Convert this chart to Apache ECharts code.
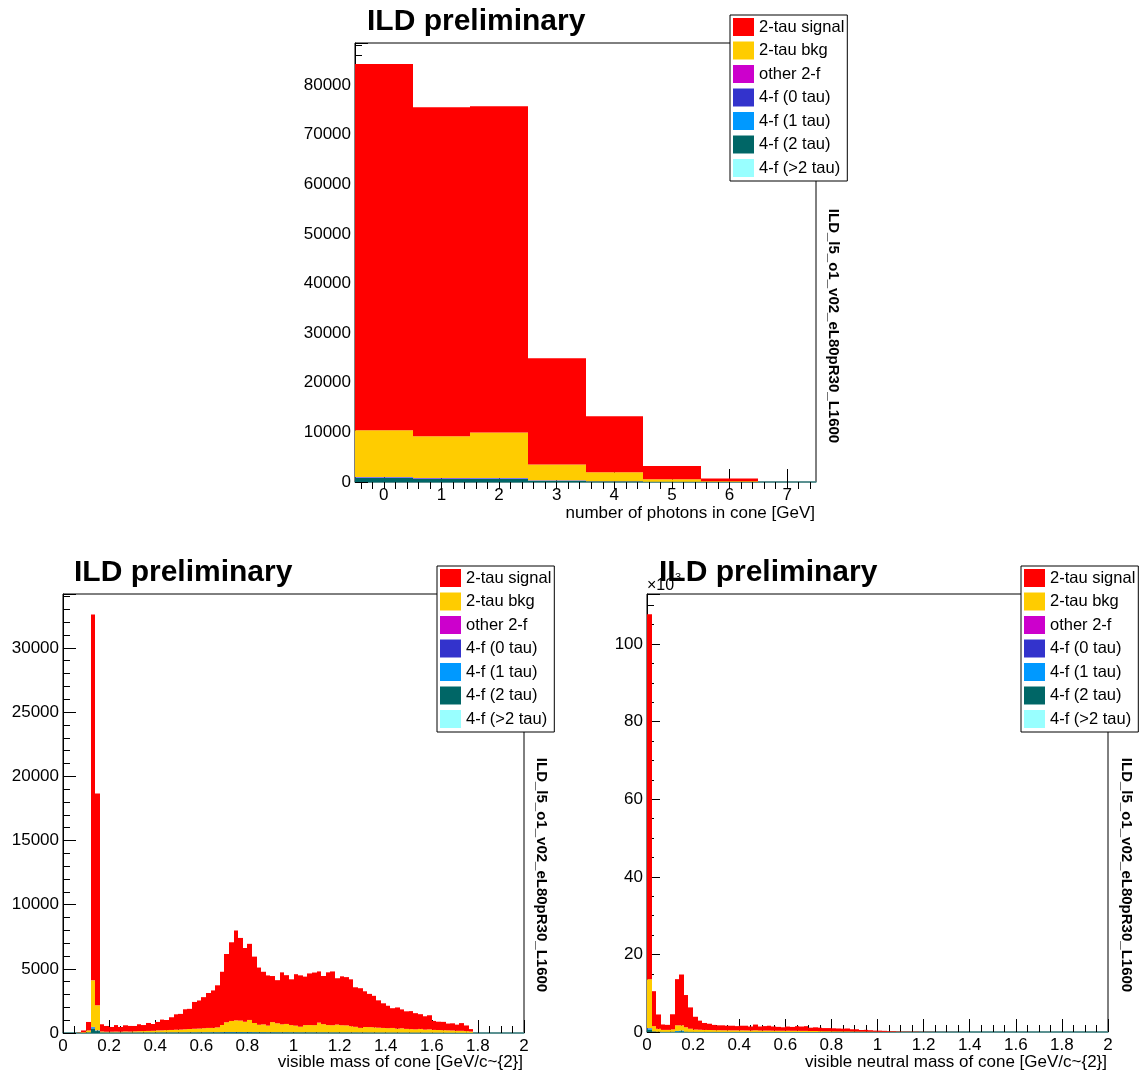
<!DOCTYPE html>
<html><head><meta charset="utf-8">
<script src="https://cdn.jsdelivr.net/npm/echarts@6/dist/echarts.min.js"></script>
<style>html,body{margin:0;padding:0;background:#fff}#c{width:1142px;height:1077px}</style>
</head><body><div id="c"></div><script>
// ---------------- DATA ----------------
const legendNames = ['2-tau signal','2-tau bkg','other 2-f','4-f (0 tau)','4-f (1 tau)','4-f (2 tau)','4-f (>2 tau)'];
const seriesColors = ['#ff0000','#ffcc00','#cc00cc','#3333cc','#0099ff','#006666','#99ffff'];

// Chart 1: number of photons in cone (8 bins, -0.5 .. 7.5)
const photonBins = {lo: -0.5, width: 1, n: 8};
const photonTickLabels = [0,1,2,3,4,5,6,7];
const photonYTicks = [0,10000,20000,30000,40000,50000,60000,70000,80000];
const phSignal = [73820, 66290, 65750, 21440, 11290, 2690, 550, 0];
const phBkg    = [9420, 8410, 9150, 3170, 1820, 500, 130, 0];
const phOther  = [30, 35, 35, 15, 4, 2, 1, 0];
const ph0tau   = [80, 100, 90, 40, 15, 5, 1, 0];
const ph1tau   = [80, 60, 60, 30, 15, 4, 1, 0];
const ph2tau   = [800, 600, 610, 250, 105, 28, 7, 0];
const phGt2tau = [20, 15, 15, 5, 1, 1, 0, 0];

// Chart 2: visible mass of cone (100 bins, 0 .. 2)
const massBins = {lo: 0, width: 0.02, n: 100};
const massTickLabels = [0,0.2,0.4,0.6,0.8,1,1.2,1.4,1.6,1.8,2];
const massYTicks = [0,5000,10000,15000,20000,25000,30000];
const mSignal = [
 0,0,0,20,140,660,28500,16490,560,450,
 370,510,370,480,440,420,540,470,620,530,
 660,840,790,990,1200,1220,1560,1570,2090,2190,
 2420,2720,2920,3280,4150,5320,6130,7000,6440,5750,
 5930,5170,4460,4100,3910,3590,3360,4050,3800,3570,
 4010,4000,3780,4020,4100,3990,3750,4110,4190,3610,
 3810,3760,3650,3080,3090,2780,2590,2450,2130,1920,
 1750,1540,1650,1470,1370,1400,1260,1150,1040,1100,
 700,650,650,530,560,480,600,440,190,0,
 0,0,0,0,0,0,0,0,0,0];
const mBkg = [
 0,0,0,15,45,150,3625,1952,70,50,
 50,60,50,70,60,80,90,100,110,120,
 150,150,170,180,200,210,230,250,270,280,
 310,330,330,370,550,760,860,910,890,800,
 940,710,570,600,510,780,690,610,640,550,
 510,430,550,560,550,750,630,560,550,600,
 550,540,480,430,350,420,410,400,370,350,
 330,350,300,330,280,270,250,280,230,250,
 210,200,190,180,170,150,150,130,100,0,
 0,0,0,0,0,0,0,0,0,0];
const mOther = [
 0,0,0,0,0,0,10,5,3,3,
 3,3,3,3,3,3,3,3,3,3,
 3,3,3,3,3,3,3,3,3,3,
 3,3,3,3,3,3,3,3,3,3,
 3,3,3,3,3,3,3,3,3,3,
 3,3,3,3,3,3,3,3,3,3,
 3,3,3,3,3,3,3,3,3,3,
 3,3,3,3,3,3,3,3,3,3,
 3,3,3,2,2,2,2,1,1,0,
 0,0,0,0,0,0,0,0,0,0];
const m0tau = [
 0,0,0,0,0,0,20,10,5,5,
 5,5,5,5,5,5,5,5,5,5,
 5,5,5,5,5,5,5,5,5,5,
 5,5,5,5,5,5,5,5,5,5,
 5,5,5,5,5,5,5,5,5,5,
 5,5,5,5,5,5,5,5,5,5,
 5,5,5,5,5,5,5,5,5,5,
 5,5,5,5,5,5,5,5,5,5,
 5,5,4,4,3,3,3,2,2,0,
 0,0,0,0,0,0,0,0,0,0];
const m1tau = [
 0,0,0,0,0,10,90,40,10,10,
 10,10,10,10,10,10,10,10,10,10,
 10,12,12,12,12,12,14,14,14,14,
 15,15,15,16,16,18,18,18,16,16,
 16,15,15,15,14,14,14,14,13,13,
 12,12,12,12,12,12,11,11,11,10,
 10,10,10,10,9,9,9,8,8,8,
 8,8,7,7,7,6,6,6,5,5,
 5,5,4,4,4,3,3,3,2,0,
 0,0,0,0,0,0,0,0,0,0];
const m2tau = [
 0,0,0,5,15,40,350,150,30,28,
 30,28,30,32,30,28,32,30,32,30,
 32,34,32,35,34,36,35,38,36,40,
 38,40,42,40,45,48,50,48,50,48,
 50,46,44,45,42,44,42,40,42,40,
 40,38,40,38,38,36,38,36,35,36,
 34,34,32,32,30,30,28,28,26,26,
 25,24,24,22,22,20,20,20,18,18,
 16,16,15,14,14,12,12,10,8,0,
 0,0,0,0,0,0,0,0,0,0];
const mGt2tau = [
 0,0,0,0,0,0,5,3,2,2,
 2,2,2,2,2,2,2,2,2,2,
 2,2,2,2,2,2,2,2,2,2,
 2,2,2,2,2,2,2,2,2,2,
 2,2,2,2,2,2,2,2,2,2,
 2,2,2,2,2,2,2,2,2,2,
 2,2,2,2,2,2,2,2,2,2,
 2,2,2,2,2,2,2,2,2,2,
 2,2,2,1,1,1,1,1,1,0,
 0,0,0,0,0,0,0,0,0,0];

// Chart 3: visible neutral mass of cone (100 bins, 0 .. 2), values in units of 10^3
const neutralBins = {lo: 0, width: 0.02, n: 100};
const neutralTickLabels = [0,0.2,0.4,0.6,0.8,1,1.2,1.4,1.6,1.8,2];
const neutralYTicks = [0,20,40,60,80,100];
const nSignal = [
 94.1,9.0,3.7,1.4,1.3,3.9,11.9,13.1,8.3,5.5,
 3.3,2.35,1.8,1.62,1.35,1.25,1.28,1.18,1.2,1.1,
 1.2,1.22,1.04,1.48,1.05,1.15,1.26,1.08,1.0,0.9,
 1.08,1.0,1.2,1.12,1.22,0.85,0.95,0.88,0.8,0.8,
 0.77,0.73,0.69,0.74,0.57,0.58,0.4,0.45,0.37,0.28,
 0.29,0.25,0.16,0.16,0.09,0.08,0.08,0.06,0.08,0.04,
 0.04,0.04,0.03,0.02,0.02,0.02,0.02,0.01,0.01,0,
 0,0,0,0,0,0,0,0,0,0,
 0,0,0,0,0,0,0,0,0,0,
 0,0,0,0,0,0,0,0,0,0];
const nBkg = [
 12.6,1.37,0.75,0.5,0.5,0.6,1.45,1.35,1.15,0.8,
 0.6,0.55,0.5,0.48,0.45,0.45,0.42,0.42,0.4,0.4,
 0.4,0.38,0.36,0.42,0.35,0.35,0.34,0.32,0.3,0.3,
 0.32,0.3,0.3,0.28,0.28,0.25,0.25,0.22,0.2,0.2,
 0.18,0.17,0.16,0.16,0.13,0.12,0.1,0.1,0.08,0.07,
 0.06,0.05,0.04,0.04,0.03,0.02,0.02,0.02,0.02,0.01,
 0.01,0.01,0,0,0,0,0,0,0,0,
 0,0,0,0,0,0,0,0,0,0,
 0,0,0,0,0,0,0,0,0,0,
 0,0,0,0,0,0,0,0,0,0];
const nOther = [0.03,0.01,0,0,0,0,0,0,0,0, 0,0,0,0,0,0,0,0,0,0, 0,0,0,0,0,0,0,0,0,0, 0,0,0,0,0,0,0,0,0,0, 0,0,0,0,0,0,0,0,0,0, 0,0,0,0,0,0,0,0,0,0, 0,0,0,0,0,0,0,0,0,0, 0,0,0,0,0,0,0,0,0,0, 0,0,0,0,0,0,0,0,0,0, 0,0,0,0,0,0,0,0,0,0];
const n0tau = [0.05,0.01,0,0,0,0,0.02,0.02,0,0, 0,0,0,0,0,0,0,0,0,0, 0,0,0,0,0,0,0,0,0,0, 0,0,0,0,0,0,0,0,0,0, 0,0,0,0,0,0,0,0,0,0, 0,0,0,0,0,0,0,0,0,0, 0,0,0,0,0,0,0,0,0,0, 0,0,0,0,0,0,0,0,0,0, 0,0,0,0,0,0,0,0,0,0, 0,0,0,0,0,0,0,0,0,0];
const n1tau = [0.3,0.03,0.02,0.01,0.01,0.02,0.15,0.2,0.03,0.01, 0.01,0.01,0.01,0.01,0.01,0,0,0,0,0, 0,0,0,0,0,0,0,0,0,0, 0,0,0,0,0,0,0,0,0,0, 0,0,0,0,0,0,0,0,0,0, 0,0,0,0,0,0,0,0,0,0, 0,0,0,0,0,0,0,0,0,0, 0,0,0,0,0,0,0,0,0,0, 0,0,0,0,0,0,0,0,0,0, 0,0,0,0,0,0,0,0,0,0];
const n2tau = [
 0.6,0.1,0.05,0.03,0.03,0.05,0.1,0.15,0.05,0.03,
 0.02,0.02,0.02,0.02,0.02,0.02,0.02,0.02,0.02,0.02,
 0.02,0.02,0.02,0.02,0.02,0.02,0.02,0.02,0.02,0.02,
 0.01,0.01,0.01,0.01,0.01,0.01,0.01,0.01,0.01,0.01,
 0.01,0.01,0.01,0.01,0.01,0.01,0.01,0.01,0.01,0.01,
 0,0,0,0,0,0,0,0,0,0, 0,0,0,0,0,0,0,0,0,0,
 0,0,0,0,0,0,0,0,0,0, 0,0,0,0,0,0,0,0,0,0, 0,0,0,0,0,0,0,0,0,0];
const nGt2tau = [0.02,0,0,0,0,0,0,0,0,0, 0,0,0,0,0,0,0,0,0,0, 0,0,0,0,0,0,0,0,0,0, 0,0,0,0,0,0,0,0,0,0, 0,0,0,0,0,0,0,0,0,0, 0,0,0,0,0,0,0,0,0,0, 0,0,0,0,0,0,0,0,0,0, 0,0,0,0,0,0,0,0,0,0, 0,0,0,0,0,0,0,0,0,0, 0,0,0,0,0,0,0,0,0,0];

// ---------------- BUILD ----------------
const FONT = '"Liberation Sans", Arial, Helvetica, sans-serif';
const TEAL_LINE = '#4f9696';

function edgesOf(b){ const e=[]; for(let i=0;i<=b.n;i++) e.push(+(b.lo+i*b.width).toFixed(6)); return e; }

function renderRect(params, api){
  const x0=api.value(0), x1=api.value(1), y0=api.value(2), y1=api.value(3);
  if (y1<=y0) return null;
  const p0=api.coord([x0,y1]), p1=api.coord([x1,y0]);
  const left=Math.round(p0[0]), right=Math.round(p1[0]);
  const top=p0[1], bottom=p1[1];
  const col = api.visual('color');
  return {type:'rect', shape:{x:left, y:top, width:right-left, height:bottom-top},
          style:{fill:col}};
}

function buildStack(bins, layers, axisIdx){
  // layers in legend order (top first); stacked from the bottom
  const edges = edgesOf(bins);
  const base = new Array(bins.n).fill(0);
  const out = [];
  for (let k=layers.length-1;k>=0;k--){
    const vals = layers[k];
    const data = vals.map((v,i)=>[edges[i], edges[i+1], base[i], base[i]+v]);
    vals.forEach((v,i)=>{ base[i]+=v; });
    out.push({type:'custom', name:legendNames[k], xAxisIndex:axisIdx, yAxisIndex:axisIdx,
      itemStyle:{color:seriesColors[k]}, encode:{x:[0,1], y:[2,3]}, data, renderItem:renderRect,
      silent:true, animation:false, clip:true});
  }
  return out;
}

const series = [].concat(
  buildStack(photonBins, [phSignal,phBkg,phOther,ph0tau,ph1tau,ph2tau,phGt2tau], 0),
  buildStack(massBins, [mSignal,mBkg,mOther,m0tau,m1tau,m2tau,mGt2tau], 1),
  buildStack(neutralBins, [nSignal,nBkg,nOther,n0tau,n1tau,n2tau,nGt2tau], 2)
);
// minor-tick overlay axis for the photon chart
series.push({type:'custom', xAxisIndex:3, yAxisIndex:0, data:[], renderItem:()=>null, silent:true});

const photonMinor = []; for (let v=-0.4; v<7.45; v+=0.2) photonMinor.push(+v.toFixed(2));

const labelStyle = {color:'#000', fontSize:17, fontFamily:FONT, formatter:(v)=>String(+(+v).toFixed(4))};
function xAxisCfg(grid, min, max, interval, labels){
  return {type:'value', gridIndex:grid, min, max, interval,
    axisLine:{show:true, onZero:false, lineStyle:{color:TEAL_LINE, width:1.5}},
    axisTick:{show:true, inside:true, length:13, lineStyle:{color:'#000', width:1}},
    minorTick:{show:true, splitNumber:4, length:7, lineStyle:{color:'#000', width:1}},
    axisLabel:Object.assign({margin:5, customValues:labels}, labelStyle),
    splitLine:{show:false}, minorSplitLine:{show:false}};
}
function yAxisCfg(grid, max, interval, split, labels){
  return {type:'value', gridIndex:grid, min:0, max, interval,
    axisLine:{show:true, onZero:false, lineStyle:{color:'#000', width:1}},
    axisTick:{show:true, inside:true, length:13, lineStyle:{color:'#000', width:1}},
    minorTick:{show:true, splitNumber:split, length:7, lineStyle:{color:'#000', width:1}},
    axisLabel:Object.assign({margin:4, customValues:labels}, labelStyle),
    splitLine:{show:false}, minorSplitLine:{show:false}};
}

const xTop = {type:'value', gridIndex:0, min:-0.5, max:7.5,
  axisLine:{show:true, onZero:false, lineStyle:{color:TEAL_LINE, width:1.5}},
  axisTick:{show:true, inside:true, length:13, customValues:photonTickLabels, lineStyle:{color:'#000'}},
  axisLabel:Object.assign({margin:5, customValues:photonTickLabels}, labelStyle),
  splitLine:{show:false}};
const xTopMinor = {type:'value', gridIndex:0, min:-0.5, max:7.5,
  axisLine:{show:false}, axisLabel:{show:false},
  axisTick:{show:true, inside:true, length:7, customValues:photonMinor, lineStyle:{color:'#000'}},
  splitLine:{show:false}};

function legendCfg(left, top){
  return {show:true, left, top, orient:'vertical', data:legendNames, icon:'rect',
    itemWidth:21, itemHeight:18, itemGap:5.5, padding:[3,3,4,3],
    backgroundColor:'#fff', borderColor:'#000', borderWidth:1, z:20,
    selectedMode:false, textStyle:{color:'#000', fontSize:16.5, fontFamily:FONT}};
}

function txt(x,y,text,font,align,extra){
  return Object.assign({type:'text', x, y, z:30, style:{x:0, y:0, text, font, fill:'#000', align:align||'left', verticalAlign:'middle'}}, extra||{});
}
const sideLabel = 'ILD_l5_o1_v02_eL80pR30_L1600';
const titleFont = 'bold 30px ' + FONT;
const sideFont = 'bold 15px ' + FONT;
const axFont = '17px ' + FONT;

const option = {
  animation:false,
  backgroundColor:'#fff',
  grid:[
    {left:355, top:43, width:461, height:439, show:true, borderColor:'#000', borderWidth:1, backgroundColor:'transparent'},
    {left:63, top:594, width:461, height:439, show:true, borderColor:'#000', borderWidth:1, backgroundColor:'transparent'},
    {left:647, top:594, width:461, height:438, show:true, borderColor:'#000', borderWidth:1, backgroundColor:'transparent'}
  ],
  xAxis:[ xTop, xAxisCfg(1,0,2,0.2,massTickLabels), xAxisCfg(2,0,2,0.2,neutralTickLabels), xTopMinor ],
  yAxis:[ yAxisCfg(0,88460,10000,5,photonYTicks), yAxisCfg(1,34200,5000,5,massYTicks), yAxisCfg(2,112.9,20,4,neutralYTicks) ],
  legend:[ legendCfg(730,15), legendCfg(437,566), legendCfg(1021,566) ],
  graphic:[
    txt(647,586,'×10','16px '+FONT,'left'),
    txt(675,578,'3','11px '+FONT,'left'),
    txt(367,22,'ILD preliminary',titleFont,'left'),
    txt(74,573,'ILD preliminary',titleFont,'left'),
    txt(659,573,'ILD preliminary',titleFont,'left'),
    txt(815,513,'number of photons in cone [GeV]',axFont,'right'),
    txt(523,1062,'visible mass of cone [GeV/c~{2}]',axFont,'right'),
    txt(1107,1062,'visible neutral mass of cone [GeV/c~{2}]',axFont,'right'),
    txt(833,326,sideLabel,sideFont,'center',{rotation:-Math.PI/2}),
    txt(541,875,sideLabel,sideFont,'center',{rotation:-Math.PI/2}),
    txt(1126,875,sideLabel,sideFont,'center',{rotation:-Math.PI/2})
  ],
  series
};
const chart = echarts.init(document.getElementById('c'), null, {renderer:'canvas'});
chart.setOption(option);
</script></body></html>
